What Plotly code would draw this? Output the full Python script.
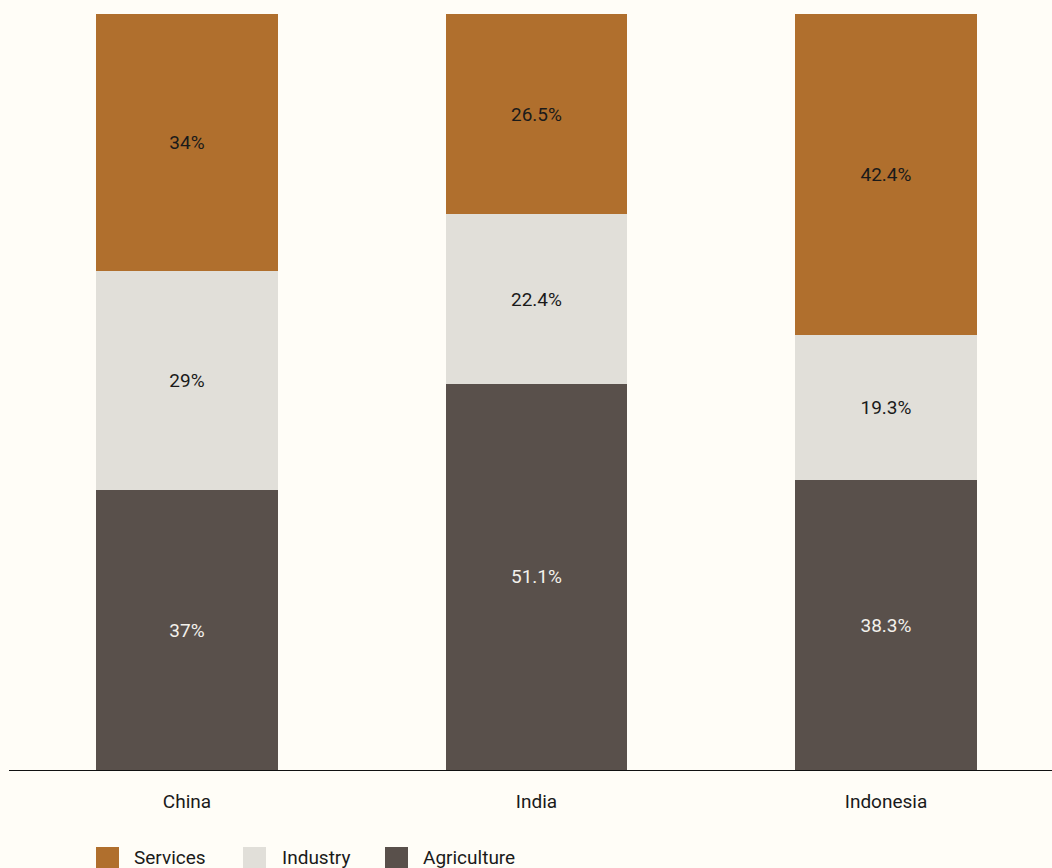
import plotly.graph_objects as go

# Employment share by sector (%)
countries = ["China", "India", "Indonesia"]
agriculture = [37, 51.1, 38.3]
industry = [29, 22.4, 19.3]
services = [34, 26.5, 42.4]

labels_agri = ["37%", "51.1%", "38.3%"]
labels_ind = ["29%", "22.4%", "19.3%"]
labels_serv = ["34%", "26.5%", "42.4%"]

C_SERV = "#B06F2D"
C_IND = "#E1DFD9"
C_AGRI = "#59504B"
BG = "#FFFDF7"
FONT = "Roboto"
FS = 19

W, H = 1052, 868
M_L, M_R, M_T, M_B = 9, 0, 14, 98
PW = W - M_L - M_R
PH = H - M_T - M_B

fig = go.Figure()

def add_series(name, vals, labels, color, tcolor):
    fig.add_trace(go.Bar(
        name=name, x=countries, y=vals, text=labels,
        textposition="inside", insidetextanchor="middle", textangle=0,
        textfont=dict(family=FONT, size=FS, color=tcolor),
        marker=dict(color=color, line=dict(width=0)),
        width=0.52, showlegend=False, hoverinfo="skip",
    ))

add_series("Agriculture", agriculture, labels_agri, C_AGRI, "#F3F1EC")
add_series("Industry", industry, labels_ind, C_IND, "#1A1A1A")
add_series("Services", services, labels_serv, C_SERV, "#1A1A1A")

# Legend drawn as swatches + labels below the axis
legend_items = [("Services", C_SERV, 96, 132), ("Industry", C_IND, 243, 280), ("Agriculture", C_AGRI, 385, 421)]

def px_x(px):
    return (px - M_L) / PW

def px_y(py):
    return (H - M_B - py) / PH

shapes = []
annotations = []
for name, color, sx, tx in legend_items:
    shapes.append(dict(type="rect", xref="paper", yref="paper",
                       x0=px_x(sx), x1=px_x(sx + 23), y0=px_y(847), y1=px_y(868),
                       fillcolor=color, line=dict(width=0)))
    annotations.append(dict(xref="paper", yref="paper", x=px_x(tx), y=px_y(857),
                            text=name, showarrow=False, xanchor="left", yanchor="middle",
                            font=dict(family=FONT, size=FS, color="#1A1A1A")))

fig.update_layout(
    width=W, height=H,
    margin=dict(l=M_L, r=M_R, t=M_T, b=M_B, pad=0),
    barmode="stack",
    paper_bgcolor=BG, plot_bgcolor=BG,
    uniformtext=dict(minsize=FS, mode="show"),
    xaxis=dict(range=[-0.5093, 2.475], showgrid=False, zeroline=False,
               showline=True, linecolor="#111111", linewidth=1.3,
               ticks="outside", ticklen=14, tickcolor="rgba(0,0,0,0)",
               tickfont=dict(family=FONT, size=FS, color="#1A1A1A")),
    yaxis=dict(range=[0, 100], showgrid=False, zeroline=False,
               showticklabels=False, showline=False),
    shapes=shapes, annotations=annotations,
    showlegend=False,
)

fig.write_html("out.html")
